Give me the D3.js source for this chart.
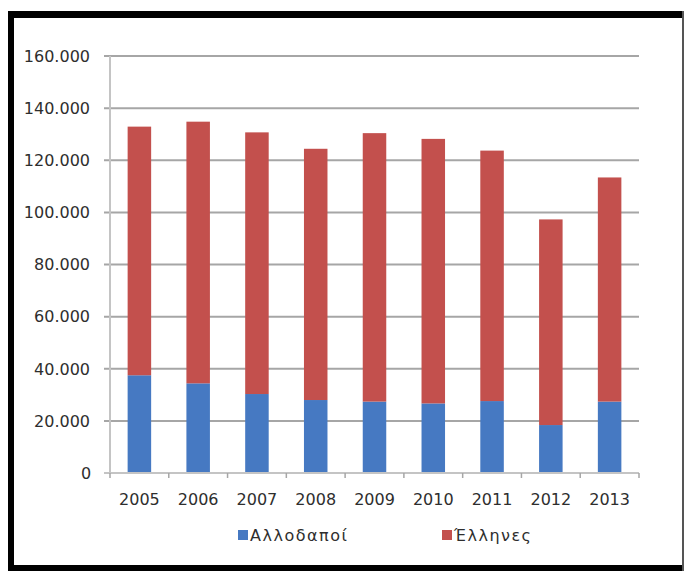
<!DOCTYPE html>
<html>
<head>
<meta charset="utf-8">
<script src="https://cdn.jsdelivr.net/npm/d3@7"></script>
<style>
  html, body { margin: 0; padding: 0; background: #fff; }
  svg { display: block; }
  text { font-family: "DejaVu Sans", sans-serif; fill: #2e2e2e; }
</style>
</head>
<body>
<svg id="chart" width="686" height="571"></svg>
<script>
// Years on the x axis
const years = ["2005", "2006", "2007", "2008", "2009", "2010", "2011", "2012", "2013"];
// Foreign nationals (bottom segment)
const allodapoi = [37500, 34400, 30300, 28000, 27400, 26700, 27600, 18400, 27400];
// Greek nationals (top segment)
const ellines = [95400, 100400, 100400, 96400, 103000, 101500, 96100, 78900, 86000];
// Series names and colours
const seriesNames = ["Αλλοδαποί", "Έλληνες"];
const seriesColors = ["#4679c2", "#c3504d"];
// Y ticks
const yTicks = [0, 20000, 40000, 60000, 80000, 100000, 120000, 140000, 160000];

const svg = d3.select("#chart");

// Frame
svg.append("rect").attr("x", 8).attr("y", 11).attr("width", 6).attr("height", 560).attr("fill", "#000");
svg.append("rect").attr("x", 8).attr("y", 11).attr("width", 676).attr("height", 7).attr("fill", "#000");
svg.append("rect").attr("x", 8).attr("y", 565).attr("width", 676).attr("height", 6).attr("fill", "#000");
svg.append("rect").attr("x", 682).attr("y", 11).attr("width", 2).attr("height", 560).attr("fill", "#555");

const plot = { left: 110, right: 639, top: 56, bottom: 473 };

const x = d3.scaleBand().domain(years).range([plot.left, plot.right]).paddingInner(0.6).paddingOuter(0.3);
const xBound = d3.scaleBand().domain(years).range([plot.left, plot.right]);
const y = d3.scaleLinear().domain([0, 160000]).range([plot.bottom, plot.top]);

const fmt = v => v === 0 ? "0" : d3.format(",")(v).replace(/,/g, ".");

// Gridlines with left tick stubs
svg.append("g").selectAll("line").data(yTicks.filter(d => d > 0)).join("line")
  .attr("x1", plot.left - 6).attr("x2", plot.right)
  .attr("y1", d => y(d)).attr("y2", d => y(d))
  .attr("stroke", "#a6a6a6").attr("stroke-width", 2);

// Y axis line
svg.append("line").attr("x1", plot.left).attr("x2", plot.left)
  .attr("y1", plot.top).attr("y2", plot.bottom)
  .attr("stroke", "#c4c4c4").attr("stroke-width", 2);

// Y labels
svg.append("g").selectAll("text").data(yTicks).join("text")
  .attr("x", d => d === 0 ? 86 : 90)
  .attr("y", d => y(d))
  .attr("dy", "0.36em")
  .attr("text-anchor", d => d === 0 ? "middle" : "end")
  .attr("font-size", 16)
  .text(fmt);

// Stacked bars
const table = years.map((yr, i) => ({ year: yr, a: allodapoi[i], e: ellines[i] }));
const stack = d3.stack().keys(["a", "e"])(table);

svg.append("g").selectAll("g").data(stack).join("g")
  .attr("fill", (d, i) => seriesColors[i])
  .selectAll("rect").data(d => d).join("rect")
  .attr("x", d => x(d.data.year))
  .attr("width", x.bandwidth())
  .attr("y", d => y(d[1]))
  .attr("height", d => y(d[0]) - y(d[1]));

// X axis line and ticks
svg.append("line").attr("x1", plot.left - 6).attr("x2", plot.right)
  .attr("y1", plot.bottom).attr("y2", plot.bottom)
  .attr("stroke", "#c4c4c4").attr("stroke-width", 2);
const bounds = years.map(d => xBound(d)).concat([plot.right]);
svg.append("g").selectAll("line").data(bounds).join("line")
  .attr("x1", d => d).attr("x2", d => d)
  .attr("y1", plot.bottom).attr("y2", plot.bottom + 5)
  .attr("stroke", "#a6a6a6").attr("stroke-width", 1.5);

// X labels
svg.append("g").selectAll("text").data(years).join("text")
  .attr("x", d => xBound(d) + xBound.bandwidth() / 2)
  .attr("y", 499).attr("dy", "0.36em")
  .attr("text-anchor", "middle").attr("font-size", 16)
  .text(d => d);

// Legend
const legendX = [238, 442];
const lg = svg.append("g").selectAll("g").data(seriesNames).join("g")
  .attr("transform", (d, i) => `translate(${legendX[i]},535)`);
lg.append("rect").attr("x", 0).attr("y", -5).attr("width", 10).attr("height", 10)
  .attr("fill", (d, i) => seriesColors[i]);
lg.append("text").attr("x", 12).attr("dy", "0.36em").attr("font-size", 16)
  .attr("letter-spacing", 1.5).text(d => d);
</script>
</body>
</html>
